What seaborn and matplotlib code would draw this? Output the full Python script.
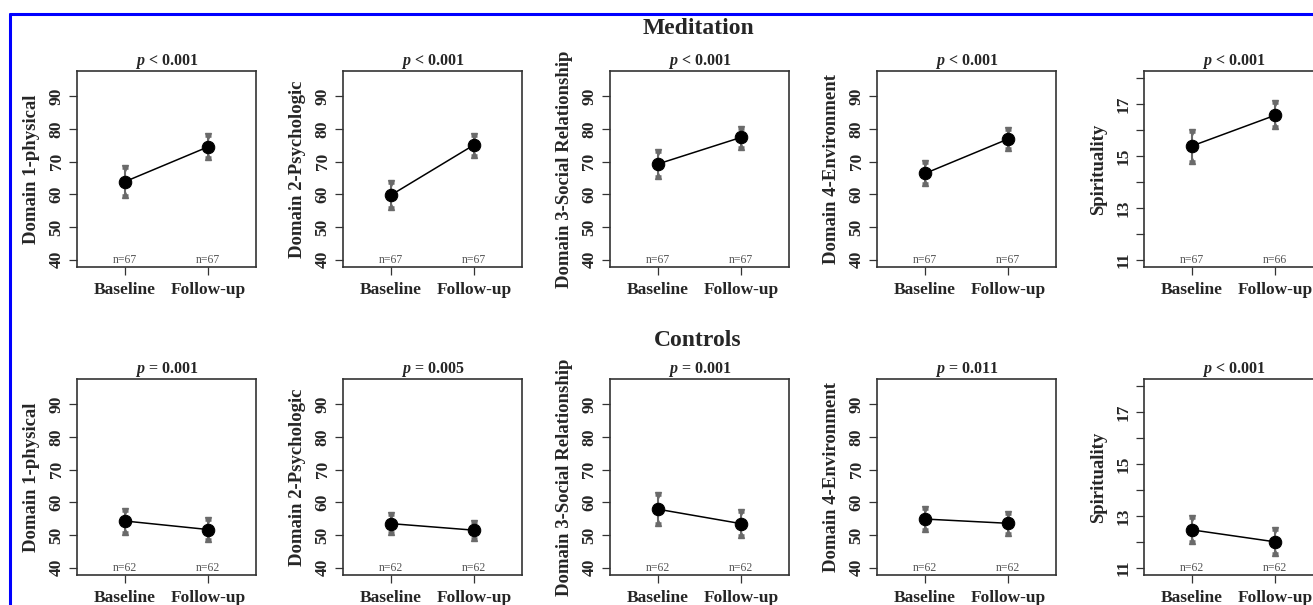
import numpy as np
import pandas as pd
import matplotlib
matplotlib.use("Agg")
import matplotlib.pyplot as plt
from matplotlib.lines import Line2D
import seaborn as sns

# values (mean with 95% CI)
domains = ["Domain 1-physical", "Domain 2-Psychologic", "Domain 3-Social Relationship",
           "Domain 4-Environment", "Spirituality"]
timepoints = ["Baseline", "Follow-up"]

med_mean = [[63.9, 74.5], [59.8, 75.1], [69.3, 77.4], [66.4, 76.9], [15.39, 16.57]]
med_lo = [[59.8, 71.3], [56.0, 72.0], [65.6, 74.5], [63.4, 74.2], [14.80, 16.14]]
med_hi = [[68.0, 77.8], [63.6, 77.9], [73.0, 80.1], [69.5, 79.6], [15.93, 17.04]]
med_n = [[67, 67], [67, 67], [67, 67], [67, 67], [67, 66]]
med_p = ["< 0.001", "< 0.001", "< 0.001", "< 0.001", "< 0.001"]

ctl_mean = [[54.3, 51.7], [53.5, 51.5], [57.9, 53.5], [54.9, 53.6], [12.46, 12.00]]
ctl_lo = [[51.0, 48.7], [50.9, 49.1], [53.8, 50.0], [52.0, 50.7], [12.04, 11.58]]
ctl_hi = [[57.5, 54.6], [56.2, 53.7], [62.1, 57.0], [57.9, 56.4], [12.91, 12.46]]
ctl_n = [[62, 62], [62, 62], [62, 62], [62, 62], [62, 62]]
ctl_p = ["= 0.001", "= 0.005", "= 0.001", "= 0.011", "< 0.001"]

groups = ["Meditation", "Controls"]

sns.set_style("ticks")
plt.rcParams["font.family"] = ["Liberation Serif", "DejaVu Serif"]
plt.rcParams["mathtext.fontset"] = "custom"
plt.rcParams["mathtext.it"] = "Liberation Serif:italic:bold"
plt.rcParams["mathtext.rm"] = "Liberation Serif:bold"

fig = plt.figure(figsize=(13.13, 6.05), dpi=100)

lefts = [77, 343, 610, 877, 1144]
bottoms = [267, 575]
W, H = 1313, 605
gray = "#6a6a6a"

all_data = [(med_mean, med_lo, med_hi, med_n, med_p), (ctl_mean, ctl_lo, ctl_hi, ctl_n, ctl_p)]

for r, (means, los, his, ns, ps) in enumerate(all_data):
    for c in range(5):
        ax = fig.add_axes([lefts[c] / W, 1 - bottoms[r] / H, 179 / W, 196 / H])
        df = pd.DataFrame({"pos": [1, 2], "mean": means[c], "lo": los[c], "hi": his[c]})

        # CI bars with small triangle caps
        ax.vlines(df["pos"], df["lo"], df["hi"], color=gray, lw=1.5, zorder=2)
        ax.hlines(df["hi"], df["pos"] - 0.04, df["pos"] + 0.04, color=gray, lw=1.8, zorder=2)
        ax.hlines(df["lo"], df["pos"] - 0.04, df["pos"] + 0.04, color=gray, lw=1.8, zorder=2)
        ax.plot(df["pos"], df["hi"], ls="none", marker="v", ms=4.5, color=gray, zorder=2)
        ax.plot(df["pos"], df["lo"], ls="none", marker="^", ms=4.5, color=gray, zorder=2)
        sns.lineplot(data=df, x="pos", y="mean", ax=ax, color="black", lw=1.1,
                     marker="o", markersize=9, markeredgecolor="black", zorder=3)

        ax.set_xlim(0.42, 2.58)
        ax.set_xticks([1, 2])
        ax.set_xticklabels(timepoints, fontsize=12.5, fontweight="bold")
        if c < 4:
            ax.set_ylim(37.8, 97.7)
            ax.set_yticks([40, 50, 60, 70, 80, 90])
        else:
            ax.set_ylim(10.72, 18.28)
            ax.set_yticks(np.arange(11, 19))
            ax.set_yticklabels(["11", "", "13", "", "15", "", "17", ""])
        for lab in ax.get_yticklabels():
            lab.set_rotation(90)
            lab.set_va("center")
            lab.set_fontweight("bold")
            lab.set_fontsize(12.5)
        ax.tick_params(axis="both", direction="out", length=6, width=0.9, color="#333333", pad=3)
        ax.tick_params(axis="x", pad=5)
        ax.set_xlabel("")
        ax.set_ylabel(domains[c], fontsize=13.5, fontweight="bold", labelpad=6)
        ax.set_title(r"$p$ " + ps[c], fontsize=11.5, fontweight="bold", pad=3)
        for s in ax.spines.values():
            s.set_visible(True)
            s.set_linewidth(1.2)
            s.set_color("#333333")
        for i, n in enumerate(ns[c]):
            ax.text(i + 1, 0.005, f"n={n}", transform=ax.get_xaxis_transform(),
                    ha="center", va="bottom", fontsize=8.5, color="#555555")

fig.text(698 / W, 1 - 28 / H, groups[0], ha="center", va="center", fontsize=17, fontweight="bold")
fig.text(698 / W, 1 - 340 / H, groups[1], ha="center", va="center", fontsize=17, fontweight="bold")

# blue frame (top and left edge)
fig.add_artist(Line2D([10 / W, 1], [1 - 14 / H, 1 - 14 / H], color="#0000ff", lw=2.2))
fig.add_artist(Line2D([10 / W, 10 / W], [0, 1 - 14 / H], color="#0000ff", lw=2.2))

fig.savefig("out.png", dpi=100)
